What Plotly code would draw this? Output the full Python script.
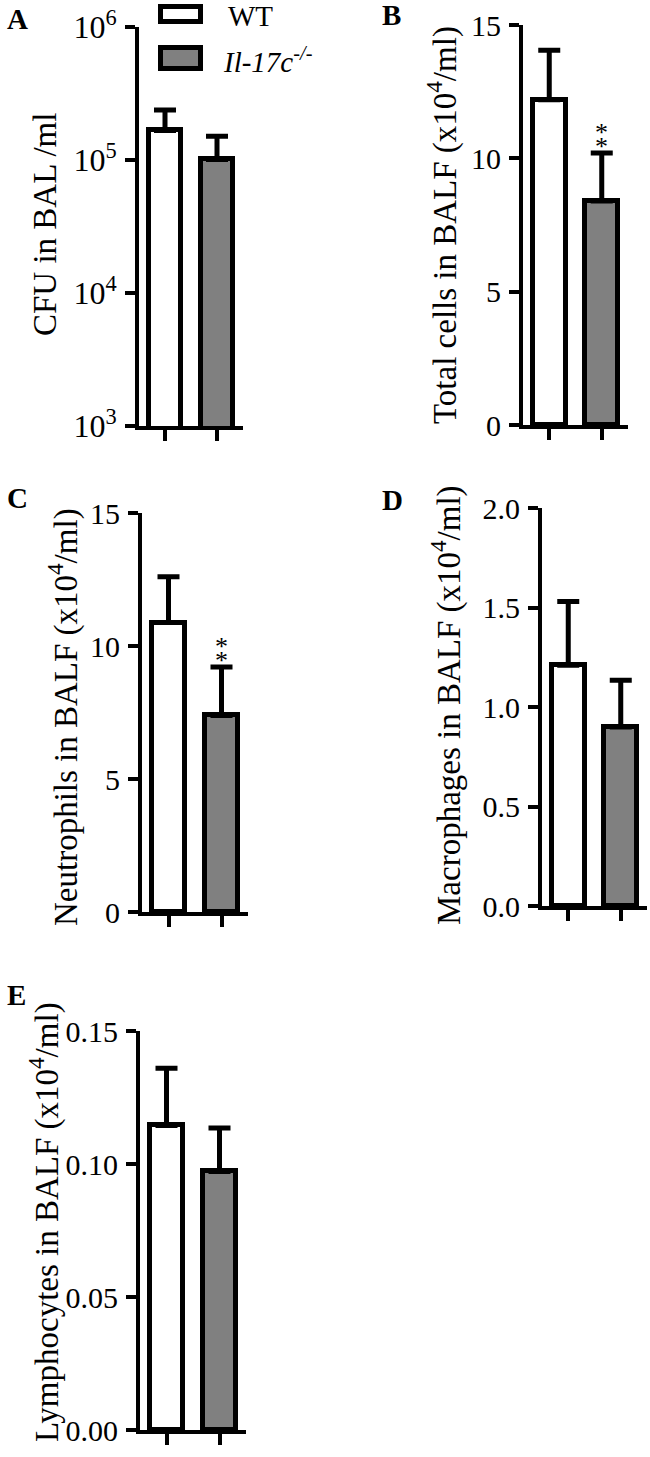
import plotly.graph_objects as go

W, H = 650, 1457
FONT = "Liberation Serif"

groups = ["WT", "Il-17c-/-"]
bar_colors = ["white", "#808080"]

# panel A: CFU in BAL (log scale)
cfu_mean = [1.67e5, 1.01e5]
cfu_sd = [0.71e5, 0.50e5]
# panel B: total cells
total_mean = [12.2, 8.4]
total_sd = [1.85, 1.8]
# panel C: neutrophils
neut_mean = [10.88, 7.39]
neut_sd = [1.72, 1.82]
# panel D: macrophages
macro_mean = [1.21, 0.90]
macro_sd = [0.32, 0.235]
# panel E: lymphocytes
lymph_mean = [0.1145, 0.0972]
lymph_sd = [0.0215, 0.0163]

ytitles = [
    "CFU in BAL /ml",
    "Total cells in BALF (x10<sup>4</sup>/ml)",
    "Neutrophils in BALF (x10<sup>4</sup>/ml)",
    "Macrophages in BALF (x10<sup>4</sup>/ml)",
    "Lymphocytes in BALF (x10<sup>4</sup>/ml)",
]
letters = ["A", "B", "C", "D", "E"]
signif = ["", "**", "**", "", ""]

panels = [
    dict(mean=cfu_mean, sd=cfu_sd, px=(139, 243), py=(27, 426), log=True,
         yrange=[3, 6], tickvals=[1e3, 1e4, 1e5, 1e6],
         ticktext=["10<sup>3</sup>", "10<sup>4</sup>", "10<sup>5</sup>", "10<sup>6</sup>"],
         title_xy=(45, 225), letter_xy=(5, 19)),
    dict(mean=total_mean, sd=total_sd, px=(523, 628), py=(25, 425), log=False,
         yrange=[0, 15], tickvals=[0, 5, 10, 15], ticktext=["0", "5", "10", "15"],
         title_xy=(442, 225), letter_xy=(380, 15)),
    dict(mean=neut_mean, sd=neut_sd, px=(142, 248), py=(513, 912), log=False,
         yrange=[0, 15], tickvals=[0, 5, 10, 15], ticktext=["0", "5", "10", "15"],
         title_xy=(63, 717), letter_xy=(5, 498)),
    dict(mean=macro_mean, sd=macro_sd, px=(542, 647), py=(508, 906), log=False,
         yrange=[0, 2], tickvals=[0, 0.5, 1, 1.5, 2], ticktext=["0.0", "0.5", "1.0", "1.5", "2.0"],
         title_xy=(446, 705), letter_xy=(380, 500)),
    dict(mean=lymph_mean, sd=lymph_sd, px=(140, 246), py=(1031, 1430), log=False,
         yrange=[0, 0.15], tickvals=[0, 0.05, 0.1, 0.15], ticktext=["0.00", "0.05", "0.10", "0.15"],
         title_xy=(44, 1222), letter_xy=(5, 995)),
]

fig = go.Figure()
annotations = []
layout = {}

for i, p in enumerate(panels):
    n = "" if i == 0 else str(i + 1)
    xa, ya = "x" + n, "y" + n
    fig.add_trace(go.Bar(
        x=[0, 1], y=p["mean"], xaxis=xa, yaxis=ya, width=0.62,
        marker=dict(color=bar_colors, line=dict(color="black", width=5)),
        error_y=dict(type="data", array=p["sd"], arrayminus=[0, 0], symmetric=False,
                     color="black", thickness=5, width=11),
        showlegend=False, hoverinfo="skip",
    ))
    layout["xaxis" + n] = dict(
        domain=[p["px"][0] / W, p["px"][1] / W], anchor=ya, range=[-0.5, 1.5],
        showline=True, linecolor="black", linewidth=4, ticks="outside", ticklen=11,
        tickwidth=4, tickcolor="black", tickvals=[0, 1], showticklabels=False,
        showgrid=False, zeroline=False, fixedrange=True, automargin=False,
    )
    layout["yaxis" + n] = dict(
        domain=[1 - p["py"][1] / H, 1 - p["py"][0] / H], anchor=xa,
        type="log" if p["log"] else "linear", range=p["yrange"],
        tickvals=p["tickvals"], ticktext=p["ticktext"],
        showline=True, linecolor="black", linewidth=4, ticks="outside", ticklen=10,
        tickwidth=4, tickcolor="black", showgrid=False, zeroline=False,
        tickfont=dict(family=FONT, size=32 if p["log"] else 30, color="black"),
        ticklabelstandoff=2, automargin=False, fixedrange=True,
    )
    tx, ty = p["title_xy"]
    annotations.append(dict(
        text=ytitles[i], x=tx / W, y=1 - ty / H, xref="paper", yref="paper",
        textangle=-90, showarrow=False, xanchor="center", yanchor="middle",
        font=dict(family=FONT, size=33, color="black"),
    ))
    lx, ly = p["letter_xy"]
    annotations.append(dict(
        text="<b>%s</b>" % letters[i], x=lx / W, y=1 - ly / H, xref="paper", yref="paper",
        showarrow=False, xanchor="left", yanchor="middle",
        font=dict(family=FONT, size=29, color="black"),
    ))
    if signif[i]:
        # two asterisks stacked above the knockout error cap
        top = p["mean"][1] + p["sd"][1]
        for shift in [7, 21]:
            annotations.append(dict(
                text="*", x=1, y=top, xref=xa, yref=ya, showarrow=False,
                xanchor="center", yanchor="middle", yshift=shift,
                font=dict(family=FONT, size=26, color="black"),
            ))

# legend (drawn by hand to match the boxed swatches)
shapes = [
    dict(type="rect", xref="paper", yref="paper", x0=160.5 / W, x1=200.5 / W,
         y0=1 - 21.5 / H, y1=1 - 6.5 / H, line=dict(color="black", width=5), fillcolor=bar_colors[0]),
    dict(type="rect", xref="paper", yref="paper", x0=160.5 / W, x1=200.5 / W,
         y0=1 - 68.5 / H, y1=1 - 47.5 / H, line=dict(color="black", width=5), fillcolor=bar_colors[1]),
]
annotations.append(dict(text=groups[0], x=226 / W, y=1 - 16 / H, xref="paper", yref="paper",
                        showarrow=False, xanchor="left", yanchor="middle",
                        font=dict(family=FONT, size=29, color="black")))
annotations.append(dict(text="<i>Il-17c<sup>-/-</sup></i>", x=221 / W, y=1 - 60 / H,
                        xref="paper", yref="paper", showarrow=False, xanchor="left",
                        yanchor="middle", font=dict(family=FONT, size=29, color="black")))

fig.update_layout(
    width=W, height=H, margin=dict(l=0, r=0, t=0, b=0, autoexpand=False),
    template="none", paper_bgcolor="white", plot_bgcolor="white",
    annotations=annotations, shapes=shapes, bargap=0, **layout,
)
# page body has an 8px default margin; drop it so the figure sits at the window corner
fig.write_html("out.html", config={"displayModeBar": False},
               post_script="document.body.style.margin='0';")
